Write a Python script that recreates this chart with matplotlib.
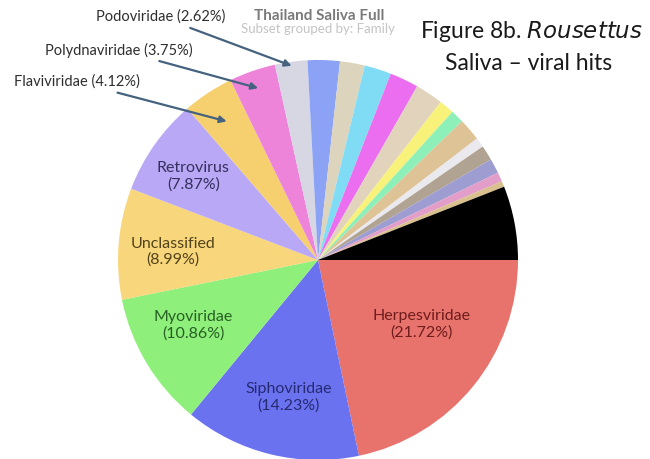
import numpy as np
import matplotlib
matplotlib.use("Agg")
import matplotlib.pyplot as plt

plt.rcParams["font.family"] = ["Lato", "DejaVu Sans"]

# viral families, clockwise from 3 o'clock
families = ["Herpesviridae", "Siphoviridae", "Myoviridae", "Unclassified",
            "Retrovirus", "Flaviviridae", "Polydnaviridae", "Podoviridae",
            "f9", "f10", "f11", "f12", "f13", "f14", "f15", "f16",
            "f17", "f18", "f19", "f20", "f21", "Other"]
percent = [21.72, 14.23, 10.86, 8.99, 7.87, 4.12, 3.75, 2.62,
           2.60, 2.00, 2.17, 2.33, 2.25, 1.22, 1.06, 1.83,
           0.78, 1.22, 1.19, 0.75, 0.47, 5.97]
colors = ["#e8736d", "#6b72f0", "#8ef07a", "#f8d67c", "#b9a8f5", "#f6d06e",
          "#ee84da", "#d6d7e3", "#8ca3f5", "#ddd4bd", "#80dcf5", "#ec6ef0",
          "#e2d3bd", "#f8f27a", "#8cf0b8", "#dec396", "#e9e9ee", "#b1a391",
          "#9d9dd2", "#e29dc9", "#d9c08e", "#000000"]

# labels drawn inside the biggest wedges: (radius fraction, angle shift, colour)
inside = {
    "Herpesviridae": (0.61, 7.5, "#6e1c1c"),
    "Siphoviridae": (0.70, 1.8, "#252a72"),
    "Myoviridae": (0.705, -3.5, "#285f24"),
    "Unclassified": (0.725, 1.5, "#52431a"),
    "Retrovirus": (0.75, 1.3, "#34305e"),
}
# labels outside with an arrow: (text x, text y, arrow tip radius fraction)
callouts = {
    "Podoviridae": (161, 442, 0.98),
    "Polydnaviridae": (119, 409, 0.91),
    "Flaviviridae": (77, 377, 0.83),
}

W, H = 650, 459
cx, cy, R = 318, 199, 200

fig = plt.figure(figsize=(W / 100, H / 100), dpi=100)
ax = fig.add_axes([0, 0, 1, 1])

wedges, _ = ax.pie(percent, colors=colors, startangle=0, counterclock=False,
                   center=(cx, cy), radius=R,
                   wedgeprops=dict(linewidth=0))
ax.set_xlim(0, W)
ax.set_ylim(0, H)
ax.set_aspect("equal")
ax.axis("off")

for w, name, pct in zip(wedges, families, percent):
    mid = (w.theta1 + w.theta2) / 2
    if name in inside:
        rf, shift, tc = inside[name]
        a = np.radians(mid + shift)
        ax.text(cx + rf * R * np.cos(a), cy + rf * R * np.sin(a),
                f"{name}\n({pct:.2f}%)", ha="center", va="center",
                fontsize=11.5, color=tc, linespacing=1.2)
    elif name in callouts:
        tx, ty, rf = callouts[name]
        a = np.radians(mid)
        ax.annotate(f"{name} ({pct:.2f}%)",
                    xy=(cx + rf * R * np.cos(a), cy + rf * R * np.sin(a)),
                    xytext=(tx, ty), ha="center", va="center",
                    fontsize=10.5, color="#2e2e2e",
                    arrowprops=dict(arrowstyle="-|>", color="#45627f",
                                    lw=1.6, mutation_scale=10,
                                    shrinkA=2, shrinkB=0))

ax.text(319, 443, "Thailand Saliva Full", ha="center", va="center",
        fontsize=11, fontweight="bold", color="#7a7a7a")
ax.text(318, 430, "Subset grouped by: Family", ha="center", va="center",
        fontsize=9.5, color="#c4c4c4")

ax.text(531, 428, "Figure 8b. $\\it{Rousettus}$", ha="center", va="center",
        fontsize=16.5, color="#1a1a1a")
ax.text(529, 396, "Saliva – viral hits", ha="center", va="center",
        fontsize=16.5, color="#1a1a1a")

fig.savefig("out.png", dpi=100)
